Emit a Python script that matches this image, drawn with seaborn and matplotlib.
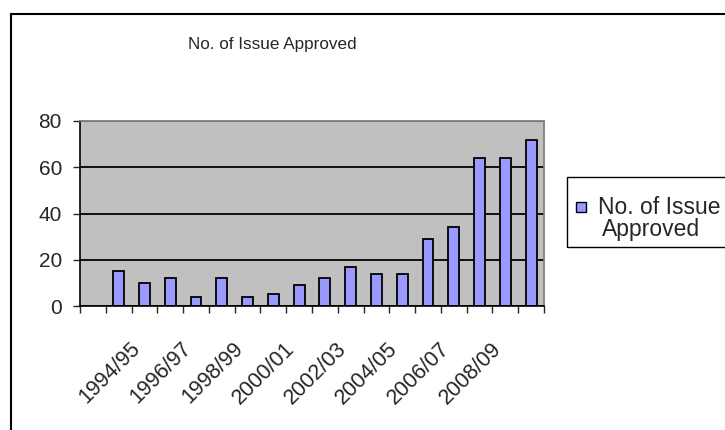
import numpy as np
import matplotlib
matplotlib.use("Agg")
import matplotlib.pyplot as plt
from matplotlib.patches import Rectangle
import seaborn as sns
import pandas as pd

# data
years = ["1993/94", "1994/95", "1995/96", "1996/97", "1997/98", "1998/99",
         "1999/00", "2000/01", "2001/02", "2002/03", "2003/04", "2004/05",
         "2005/06", "2006/07", "2007/08", "2008/09", "2009/10"]
issues = [15, 10, 12, 4, 12, 4, 5, 9, 12, 17, 14, 14, 29, 34, 64, 64, 72]
y_ticks = [0, 20, 40, 60, 80]
title = "No. of Issue Approved"
legend_lines = ["No. of Issue", "Approved"]

# first category slot is empty in the original sheet
order = [""] + years
shown_labels = [lab if i % 2 == 0 else "" for i, lab in enumerate(order)]

df = pd.DataFrame({"year": years, "issues": issues})

sns.set_style("white")
plt.rcParams["font.family"] = ["Liberation Sans", "DejaVu Sans"]

W, H = 725, 430
fig = plt.figure(figsize=(W / 100, H / 100), dpi=100)
ax = fig.add_axes([80 / W, 1 - 306 / H, (544 - 80) / W, (306 - 121) / H])

sns.barplot(data=df, x="year", y="issues", order=order, ax=ax,
            color="#9999FF", saturation=1, width=0.42,
            edgecolor="black", linewidth=1.3)

ax.set_facecolor("#C0C0C0")
ax.set_xlim(-0.5, len(order) - 0.5)
ax.set_ylim(0, 80)
ax.set_xlabel("")
ax.set_ylabel("")

# y axis
ax.set_yticks(y_ticks)
ax.tick_params(axis="y", direction="out", length=5, width=1, pad=8,
               labelsize=15, left=True)
ax.set_axisbelow(True)
ax.yaxis.grid(True, color="black", lw=1.3)
ax.xaxis.grid(False)

# x axis: tick marks between categories, labels on every other category
ax.set_xticks(np.arange(len(order)))
ax.set_xticklabels(shown_labels, rotation=45, ha="right", va="top")
ax.set_xticks(np.arange(-0.5, len(order), 1), minor=True)
ax.tick_params(axis="x", which="major", length=0, pad=23, labelsize=15.5)
ax.tick_params(axis="x", which="minor", direction="out", length=5, width=1,
               bottom=True)

for side in ["left", "bottom"]:
    ax.spines[side].set_color("black")
    ax.spines[side].set_linewidth(1.2)
for side in ["top", "right"]:
    ax.spines[side].set_visible(True)
    ax.spines[side].set_color("#808080")
    ax.spines[side].set_linewidth(1.3)

# chart title
fig.text(272 / W, 1 - 45 / H, title, ha="center", va="center", fontsize=12.3)

# outer chart frame (cut off at right and bottom)
fig.patches.append(Rectangle((11 / W, -0.1), 1.0, 1 - 14 / H + 0.1,
                             transform=fig.transFigure, fill=False,
                             edgecolor="black", lw=1.5, clip_on=False))

# legend box
fig.patches.append(Rectangle((567 / W, 1 - 247 / H), 0.5, 70 / H,
                             transform=fig.transFigure, fill=False,
                             edgecolor="black", lw=1, clip_on=False))
fig.patches.append(Rectangle((576 / W, 1 - 212 / H), 10 / W, 10 / H,
                             transform=fig.transFigure, facecolor="#9999FF",
                             edgecolor="black", lw=1))
fig.text(598 / W, 1 - 207 / H, legend_lines[0], ha="left", va="center",
         fontsize=16.5)
fig.text(602 / W, 1 - 230 / H, legend_lines[1], ha="left", va="center",
         fontsize=16.5)

fig.savefig("out.png", dpi=100)
